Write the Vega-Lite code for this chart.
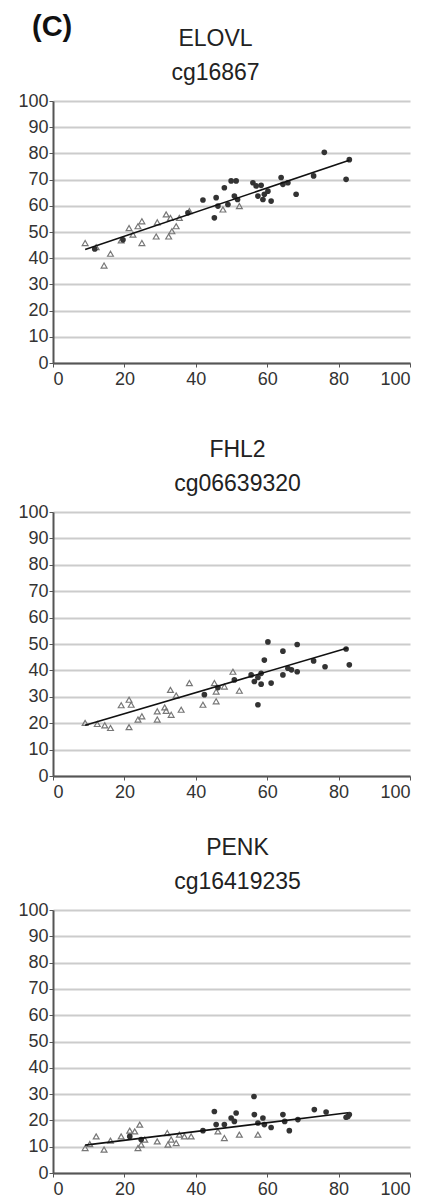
{
  "$schema": "https://vega.github.io/schema/vega-lite/v6.json",
  "background": "white",
  "padding": {"left": 17, "top": 13, "right": 5, "bottom": 2},
  "title": {"text": "(C)", "anchor": "start", "fontSize": 29, "fontWeight": "bold", "font": "Liberation Sans", "color": "#111", "offset": -14, "dx": 14, "frame": "bounds"},
  "config": {
    "view": {"stroke": null},
    "font": "Liberation Sans",
    "title": {"fontSize": 23, "fontWeight": "normal", "color": "#222", "lineHeight": 34, "offset": 7},
    "axis": {"domainColor": "#555", "domainWidth": 2, "tickColor": "#555", "tickSize": 4, "labelColor": "#333", "labelFont": "Liberation Sans", "title": null},
    "axisX": {"grid": false, "labelFontSize": 18, "labelPadding": 3, "tickCount": 5},
    "axisY": {"grid": true, "gridColor": "#cccccc", "gridWidth": 2, "labelFontSize": 18, "labelPadding": 1, "tickCount": 10, "labelOverlap": false}
  },
  "datasets": {
    "points": [
      {"panel": "ELOVL", "group": "A", "x": 9.0, "y": 45.8},
      {"panel": "ELOVL", "group": "A", "x": 12.1, "y": 44.2},
      {"panel": "ELOVL", "group": "A", "x": 14.3, "y": 37.2},
      {"panel": "ELOVL", "group": "A", "x": 16.1, "y": 41.7},
      {"panel": "ELOVL", "group": "A", "x": 19.1, "y": 46.8},
      {"panel": "ELOVL", "group": "A", "x": 21.3, "y": 51.5},
      {"panel": "ELOVL", "group": "A", "x": 22.4, "y": 49.0},
      {"panel": "ELOVL", "group": "A", "x": 23.8, "y": 52.2},
      {"panel": "ELOVL", "group": "A", "x": 24.9, "y": 54.1},
      {"panel": "ELOVL", "group": "A", "x": 24.9, "y": 45.8},
      {"panel": "ELOVL", "group": "A", "x": 28.9, "y": 48.3},
      {"panel": "ELOVL", "group": "A", "x": 29.2, "y": 53.7},
      {"panel": "ELOVL", "group": "A", "x": 31.7, "y": 56.7},
      {"panel": "ELOVL", "group": "A", "x": 32.4, "y": 48.3},
      {"panel": "ELOVL", "group": "A", "x": 33.3, "y": 50.3},
      {"panel": "ELOVL", "group": "A", "x": 34.5, "y": 52.2},
      {"panel": "ELOVL", "group": "A", "x": 32.9, "y": 55.4},
      {"panel": "ELOVL", "group": "A", "x": 35.4, "y": 55.4},
      {"panel": "ELOVL", "group": "A", "x": 38.2, "y": 58.0},
      {"panel": "ELOVL", "group": "A", "x": 47.6, "y": 58.6},
      {"panel": "ELOVL", "group": "A", "x": 52.2, "y": 59.9},
      {"panel": "ELOVL", "group": "B", "x": 11.7, "y": 43.5},
      {"panel": "ELOVL", "group": "B", "x": 19.6, "y": 47.0},
      {"panel": "ELOVL", "group": "B", "x": 42.0, "y": 62.2},
      {"panel": "ELOVL", "group": "B", "x": 45.2, "y": 55.4},
      {"panel": "ELOVL", "group": "B", "x": 45.7, "y": 63.1},
      {"panel": "ELOVL", "group": "B", "x": 48.0, "y": 66.9},
      {"panel": "ELOVL", "group": "B", "x": 49.9, "y": 69.5},
      {"panel": "ELOVL", "group": "B", "x": 51.3, "y": 69.5},
      {"panel": "ELOVL", "group": "B", "x": 46.2, "y": 59.9},
      {"panel": "ELOVL", "group": "B", "x": 49.0, "y": 60.5},
      {"panel": "ELOVL", "group": "B", "x": 50.8, "y": 63.7},
      {"panel": "ELOVL", "group": "B", "x": 51.7, "y": 62.4},
      {"panel": "ELOVL", "group": "B", "x": 56.0, "y": 68.8},
      {"panel": "ELOVL", "group": "B", "x": 56.9, "y": 67.6},
      {"panel": "ELOVL", "group": "B", "x": 58.3, "y": 67.8},
      {"panel": "ELOVL", "group": "B", "x": 57.4, "y": 63.7},
      {"panel": "ELOVL", "group": "B", "x": 59.2, "y": 64.4},
      {"panel": "ELOVL", "group": "B", "x": 58.8, "y": 62.4},
      {"panel": "ELOVL", "group": "B", "x": 61.1, "y": 61.8},
      {"panel": "ELOVL", "group": "B", "x": 60.2, "y": 65.6},
      {"panel": "ELOVL", "group": "B", "x": 63.9, "y": 70.8},
      {"panel": "ELOVL", "group": "B", "x": 64.4, "y": 68.2},
      {"panel": "ELOVL", "group": "B", "x": 65.8, "y": 68.8},
      {"panel": "ELOVL", "group": "B", "x": 68.1, "y": 64.4},
      {"panel": "ELOVL", "group": "B", "x": 73.0, "y": 71.4},
      {"panel": "ELOVL", "group": "B", "x": 76.0, "y": 80.4},
      {"panel": "ELOVL", "group": "B", "x": 82.1, "y": 70.1},
      {"panel": "ELOVL", "group": "B", "x": 83.0, "y": 77.6},
      {"panel": "ELOVL", "group": "B", "x": 37.8, "y": 57.3},
      {"panel": "FHL2", "group": "A", "x": 9.0, "y": 20.1},
      {"panel": "FHL2", "group": "A", "x": 12.4, "y": 19.7},
      {"panel": "FHL2", "group": "A", "x": 14.5, "y": 19.2},
      {"panel": "FHL2", "group": "A", "x": 16.1, "y": 18.2},
      {"panel": "FHL2", "group": "A", "x": 19.1, "y": 26.8},
      {"panel": "FHL2", "group": "A", "x": 21.3, "y": 28.9},
      {"panel": "FHL2", "group": "A", "x": 21.9, "y": 27.0},
      {"panel": "FHL2", "group": "A", "x": 21.3, "y": 18.5},
      {"panel": "FHL2", "group": "A", "x": 23.8, "y": 21.4},
      {"panel": "FHL2", "group": "A", "x": 24.9, "y": 22.6},
      {"panel": "FHL2", "group": "A", "x": 29.2, "y": 21.4},
      {"panel": "FHL2", "group": "A", "x": 29.2, "y": 24.5},
      {"panel": "FHL2", "group": "A", "x": 31.3, "y": 26.0},
      {"panel": "FHL2", "group": "A", "x": 31.7, "y": 24.7},
      {"panel": "FHL2", "group": "A", "x": 32.9, "y": 32.6},
      {"panel": "FHL2", "group": "A", "x": 33.1, "y": 23.2},
      {"panel": "FHL2", "group": "A", "x": 34.5, "y": 30.5},
      {"panel": "FHL2", "group": "A", "x": 35.9, "y": 25.1},
      {"panel": "FHL2", "group": "A", "x": 38.2, "y": 35.2},
      {"panel": "FHL2", "group": "A", "x": 42.0, "y": 27.0},
      {"panel": "FHL2", "group": "A", "x": 45.2, "y": 35.2},
      {"panel": "FHL2", "group": "A", "x": 45.7, "y": 28.3},
      {"panel": "FHL2", "group": "A", "x": 45.7, "y": 32.0},
      {"panel": "FHL2", "group": "A", "x": 48.0, "y": 33.9},
      {"panel": "FHL2", "group": "A", "x": 50.4, "y": 39.5},
      {"panel": "FHL2", "group": "A", "x": 52.2, "y": 32.3},
      {"panel": "FHL2", "group": "B", "x": 42.4, "y": 30.8},
      {"panel": "FHL2", "group": "B", "x": 46.2, "y": 33.5},
      {"panel": "FHL2", "group": "B", "x": 50.8, "y": 36.4},
      {"panel": "FHL2", "group": "B", "x": 55.5, "y": 38.3},
      {"panel": "FHL2", "group": "B", "x": 56.4, "y": 35.8},
      {"panel": "FHL2", "group": "B", "x": 57.4, "y": 37.3},
      {"panel": "FHL2", "group": "B", "x": 58.3, "y": 34.8},
      {"panel": "FHL2", "group": "B", "x": 58.3, "y": 38.9},
      {"panel": "FHL2", "group": "B", "x": 59.2, "y": 43.9},
      {"panel": "FHL2", "group": "B", "x": 60.2, "y": 50.8},
      {"panel": "FHL2", "group": "B", "x": 57.4, "y": 27.0},
      {"panel": "FHL2", "group": "B", "x": 61.1, "y": 35.2},
      {"panel": "FHL2", "group": "B", "x": 64.4, "y": 47.3},
      {"panel": "FHL2", "group": "B", "x": 64.4, "y": 38.3},
      {"panel": "FHL2", "group": "B", "x": 65.8, "y": 40.8},
      {"panel": "FHL2", "group": "B", "x": 66.8, "y": 40.2},
      {"panel": "FHL2", "group": "B", "x": 68.4, "y": 49.8},
      {"panel": "FHL2", "group": "B", "x": 68.4, "y": 39.5},
      {"panel": "FHL2", "group": "B", "x": 73.0, "y": 43.6},
      {"panel": "FHL2", "group": "B", "x": 76.2, "y": 41.4},
      {"panel": "FHL2", "group": "B", "x": 82.1, "y": 48.1},
      {"panel": "FHL2", "group": "B", "x": 83.0, "y": 42.1},
      {"panel": "PENK", "group": "A", "x": 9.0, "y": 9.5},
      {"panel": "PENK", "group": "A", "x": 10.3, "y": 11.0},
      {"panel": "PENK", "group": "A", "x": 12.1, "y": 13.9},
      {"panel": "PENK", "group": "A", "x": 14.3, "y": 8.9},
      {"panel": "PENK", "group": "A", "x": 16.1, "y": 12.3},
      {"panel": "PENK", "group": "A", "x": 19.1, "y": 13.9},
      {"panel": "PENK", "group": "A", "x": 21.5, "y": 16.1},
      {"panel": "PENK", "group": "A", "x": 22.9, "y": 15.8},
      {"panel": "PENK", "group": "A", "x": 24.3, "y": 18.4},
      {"panel": "PENK", "group": "A", "x": 23.8, "y": 9.5},
      {"panel": "PENK", "group": "A", "x": 24.7, "y": 10.8},
      {"panel": "PENK", "group": "A", "x": 25.7, "y": 12.7},
      {"panel": "PENK", "group": "A", "x": 29.2, "y": 12.0},
      {"panel": "PENK", "group": "A", "x": 32.0, "y": 15.2},
      {"panel": "PENK", "group": "A", "x": 32.2, "y": 10.8},
      {"panel": "PENK", "group": "A", "x": 33.1, "y": 12.7},
      {"panel": "PENK", "group": "A", "x": 34.5, "y": 11.4},
      {"panel": "PENK", "group": "A", "x": 35.4, "y": 14.6},
      {"panel": "PENK", "group": "A", "x": 36.8, "y": 13.9},
      {"panel": "PENK", "group": "A", "x": 38.7, "y": 13.9},
      {"panel": "PENK", "group": "A", "x": 46.2, "y": 15.8},
      {"panel": "PENK", "group": "A", "x": 48.0, "y": 13.3},
      {"panel": "PENK", "group": "A", "x": 52.2, "y": 14.6},
      {"panel": "PENK", "group": "A", "x": 57.4, "y": 14.6},
      {"panel": "PENK", "group": "B", "x": 21.5, "y": 13.9},
      {"panel": "PENK", "group": "B", "x": 24.7, "y": 12.7},
      {"panel": "PENK", "group": "B", "x": 42.0, "y": 16.1},
      {"panel": "PENK", "group": "B", "x": 45.2, "y": 23.4},
      {"panel": "PENK", "group": "B", "x": 45.7, "y": 18.4},
      {"panel": "PENK", "group": "B", "x": 48.0, "y": 18.4},
      {"panel": "PENK", "group": "B", "x": 49.9, "y": 20.9},
      {"panel": "PENK", "group": "B", "x": 51.3, "y": 22.8},
      {"panel": "PENK", "group": "B", "x": 50.8, "y": 19.6},
      {"panel": "PENK", "group": "B", "x": 56.3, "y": 29.1},
      {"panel": "PENK", "group": "B", "x": 56.4, "y": 22.2},
      {"panel": "PENK", "group": "B", "x": 57.4, "y": 19.0},
      {"panel": "PENK", "group": "B", "x": 58.8, "y": 20.9},
      {"panel": "PENK", "group": "B", "x": 59.2, "y": 18.4},
      {"panel": "PENK", "group": "B", "x": 61.1, "y": 17.3},
      {"panel": "PENK", "group": "B", "x": 64.4, "y": 22.2},
      {"panel": "PENK", "group": "B", "x": 64.9, "y": 19.6},
      {"panel": "PENK", "group": "B", "x": 66.2, "y": 16.1},
      {"panel": "PENK", "group": "B", "x": 68.6, "y": 20.3},
      {"panel": "PENK", "group": "B", "x": 73.2, "y": 24.1},
      {"panel": "PENK", "group": "B", "x": 76.5, "y": 23.2},
      {"panel": "PENK", "group": "B", "x": 82.6, "y": 21.5},
      {"panel": "PENK", "group": "B", "x": 83.0, "y": 22.2},
      {"panel": "PENK", "group": "B", "x": 82.1, "y": 21.2}
    ],
    "fit": [
      {"panel": "ELOVL", "x": 9, "y": 43.3},
      {"panel": "ELOVL", "x": 83, "y": 77.4},
      {"panel": "FHL2", "x": 9, "y": 19.2},
      {"panel": "FHL2", "x": 82.5, "y": 48.5},
      {"panel": "PENK", "x": 9, "y": 10.6},
      {"panel": "PENK", "x": 82.6, "y": 22.9}
    ]
  },
  "spacing": 36,
  "vconcat": [
    {
      "width": 357, "height": 262,
      "title": {"text": ["ELOVL", "cg16867"], "dx": -16},
      "layer": [
        {"data": {"name": "points"}, "transform": [{"filter": "datum.panel == 'ELOVL' && datum.group == 'A'"}],
         "mark": {"type": "point", "shape": "triangle-up", "filled": false, "stroke": "#777", "strokeWidth": 1.2, "size": 34, "opacity": 1},
         "encoding": {"x": {"field": "x", "type": "quantitative", "scale": {"domain": [0, 100], "nice": false}, "axis": {"title": " ", "titleFontSize": 12, "titlePadding": 4}},
                      "y": {"field": "y", "type": "quantitative", "scale": {"domain": [0, 100], "nice": false}}}},
        {"data": {"name": "points"}, "transform": [{"filter": "datum.panel == 'ELOVL' && datum.group == 'B'"}],
         "mark": {"type": "point", "shape": "circle", "filled": true, "color": "#333", "size": 32, "opacity": 1},
         "encoding": {"x": {"field": "x", "type": "quantitative"}, "y": {"field": "y", "type": "quantitative"}}},
        {"data": {"name": "fit"}, "transform": [{"filter": "datum.panel == 'ELOVL'"}],
         "mark": {"type": "line", "color": "#111", "strokeWidth": 1.6},
         "encoding": {"x": {"field": "x", "type": "quantitative"}, "y": {"field": "y", "type": "quantitative"}}}
      ]
    },
    {
      "width": 357, "height": 264,
      "title": {"text": ["FHL2", "cg06639320"], "dx": 6},
      "layer": [
        {"data": {"name": "points"}, "transform": [{"filter": "datum.panel == 'FHL2' && datum.group == 'A'"}],
         "mark": {"type": "point", "shape": "triangle-up", "filled": false, "stroke": "#777", "strokeWidth": 1.2, "size": 34, "opacity": 1},
         "encoding": {"x": {"field": "x", "type": "quantitative", "scale": {"domain": [0, 100], "nice": false}},
                      "y": {"field": "y", "type": "quantitative", "scale": {"domain": [0, 100], "nice": false}}}},
        {"data": {"name": "points"}, "transform": [{"filter": "datum.panel == 'FHL2' && datum.group == 'B'"}],
         "mark": {"type": "point", "shape": "circle", "filled": true, "color": "#333", "size": 32, "opacity": 1},
         "encoding": {"x": {"field": "x", "type": "quantitative"}, "y": {"field": "y", "type": "quantitative"}}},
        {"data": {"name": "fit"}, "transform": [{"filter": "datum.panel == 'FHL2'"}],
         "mark": {"type": "line", "color": "#111", "strokeWidth": 1.6},
         "encoding": {"x": {"field": "x", "type": "quantitative"}, "y": {"field": "y", "type": "quantitative"}}}
      ]
    },
    {
      "width": 357, "height": 263,
      "title": {"text": ["PENK", "cg16419235"], "dx": 6},
      "layer": [
        {"data": {"name": "points"}, "transform": [{"filter": "datum.panel == 'PENK' && datum.group == 'A'"}],
         "mark": {"type": "point", "shape": "triangle-up", "filled": false, "stroke": "#777", "strokeWidth": 1.2, "size": 34, "opacity": 1},
         "encoding": {"x": {"field": "x", "type": "quantitative", "scale": {"domain": [0, 100], "nice": false}},
                      "y": {"field": "y", "type": "quantitative", "scale": {"domain": [0, 100], "nice": false}}}},
        {"data": {"name": "points"}, "transform": [{"filter": "datum.panel == 'PENK' && datum.group == 'B'"}],
         "mark": {"type": "point", "shape": "circle", "filled": true, "color": "#333", "size": 32, "opacity": 1},
         "encoding": {"x": {"field": "x", "type": "quantitative"}, "y": {"field": "y", "type": "quantitative"}}},
        {"data": {"name": "fit"}, "transform": [{"filter": "datum.panel == 'PENK'"}],
         "mark": {"type": "line", "color": "#111", "strokeWidth": 1.6},
         "encoding": {"x": {"field": "x", "type": "quantitative"}, "y": {"field": "y", "type": "quantitative"}}}
      ]
    }
  ]
}
